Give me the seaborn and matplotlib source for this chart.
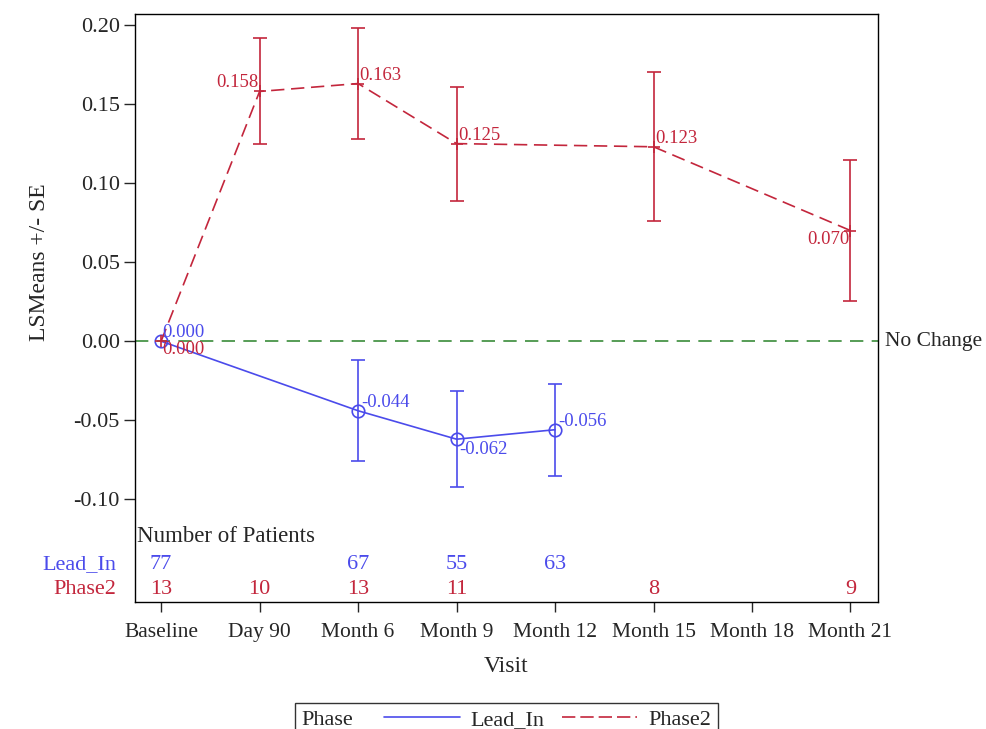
import numpy as np
import pandas as pd
import seaborn as sns
import matplotlib.pyplot as plt
import matplotlib.transforms as mtransforms
from matplotlib.lines import Line2D
from matplotlib.offsetbox import HPacker


# ----------------------------
# Data
# ----------------------------

visits = ["Baseline", "Day 90", "Month 6", "Month 9", "Month 12",
          "Month 15", "Month 18", "Month 21"]

lead_visits = ["Baseline", "Month 6", "Month 9", "Month 12"]
lead_means  = [0.000, -0.044, -0.062, -0.056]
lead_se     = [0.000, 0.032, 0.0305, 0.029]
lead_n      = [77, 67, 55, 63]

phase2_visits = ["Baseline", "Day 90", "Month 6", "Month 9", "Month 15", "Month 21"]
phase2_means  = [0.000, 0.158, 0.163, 0.125, 0.123, 0.070]
phase2_se     = [0.000, 0.0335, 0.035, 0.036, 0.047, 0.0445]
phase2_n      = [13, 10, 13, 11, 8, 9]

# label placement per point: (dx, dy, ha, va) in points
lead_lbl   = [(1, 0, "left", "bottom"), (2, 0, "left", "bottom"),
              (2, -1, "left", "top"), (2, 0, "left", "bottom")]
phase2_lbl = [(1, 0, "left", "top"), (-1, 0, "right", "bottom"),
              (1, 0, "left", "bottom"), (1, 0, "left", "bottom"),
              (1, 0, "left", "bottom"), (-1, 0, "right", "top")]

BLUE  = "#4B4BEB"
RED   = "#C3263C"
GREEN = "#3A8C3A"


# ----------------------------
# Build frame
# ----------------------------

pos = {v: i for i, v in enumerate(visits)}
df = pd.concat([
    pd.DataFrame({"Phase": "Lead_In", "Visit": lead_visits,
                  "Mean": lead_means, "SE": lead_se, "N": lead_n}),
    pd.DataFrame({"Phase": "Phase2", "Visit": phase2_visits,
                  "Mean": phase2_means, "SE": phase2_se, "N": phase2_n}),
], ignore_index=True)
df["x"] = df["Visit"].map(pos)

colors  = {"Lead_In": BLUE, "Phase2": RED}
markers = {"Lead_In": "o", "Phase2": "+"}
dashes  = {"Lead_In": (None, None), "Phase2": (8, 4)}


# ----------------------------
# Plot
# ----------------------------

sns.set_style("white")
plt.rcParams["font.family"] = ["Liberation Serif", "DejaVu Serif"]

fig = plt.figure(figsize=(9.87, 7.29), dpi=100)
ax = fig.add_axes([0.1368, 0.1742, 0.7528, 0.8066])

ax.axhline(0, color=GREEN, lw=1.2, dashes=(8, 5), zorder=1)

for phase, g in df.groupby("Phase"):
    kw = {} if phase == "Lead_In" else {"dashes": dashes[phase]}
    sns.lineplot(data=g, x="x", y="Mean", color=colors[phase],
                 marker=markers[phase], markersize=9, mfc="none",
                 mec=colors[phase], mew=1.2, lw=1.2, ax=ax, zorder=3, **kw)
    ge = g[g["SE"] > 0]
    ax.errorbar(ge["x"], ge["Mean"], yerr=ge["SE"], fmt="none",
                ecolor=colors[phase], elinewidth=1.2, capsize=5,
                capthick=1.2, zorder=2)

# value labels
for phase, lbl in [("Lead_In", lead_lbl), ("Phase2", phase2_lbl)]:
    g = df[df["Phase"] == phase]
    for (x, y), (dx, dy, ha, va) in zip(zip(g["x"], g["Mean"]), lbl):
        ax.annotate(f"{y:.3f}", (x, y), xytext=(dx, dy), textcoords="offset points",
                    ha=ha, va=va, color=colors[phase], fontsize=13.5)

# patient count table inside the axes
trans = mtransforms.blended_transform_factory(ax.transData, ax.transAxes)
ax.text(-0.245, 0.112, "Number of Patients", transform=trans, fontsize=16.5,
        ha="left", va="center")
for phase, yrow in [("Lead_In", 0.064), ("Phase2", 0.021)]:
    g = df[df["Phase"] == phase]
    for x, n in zip(g["x"], g["N"]):
        ax.text(x, yrow, str(n), transform=trans, color=colors[phase],
                fontsize=16, ha="center", va="center")
    ax.text(-0.025, yrow, phase, transform=ax.transAxes, color=colors[phase],
            fontsize=16, ha="right", va="center")

ax.text(1.01, 0, "No Change",
        transform=mtransforms.blended_transform_factory(ax.transAxes, ax.transData),
        fontsize=15.5, ha="left", va="center")

ax.set_xlim(-0.265, 7.28)
ax.set_ylim(-0.165, 0.207)
ax.set_xticks(range(len(visits)))
ax.set_xticklabels(visits)
ax.set_yticks([-0.10, -0.05, 0.00, 0.05, 0.10, 0.15, 0.20])
ax.yaxis.set_major_formatter(plt.FuncFormatter(lambda v, _: f"{v:.2f}"))
ax.tick_params(axis="y", direction="out", length=8, width=1, labelsize=16, left=True, pad=3)
ax.tick_params(axis="x", direction="out", length=7, width=1, labelsize=15.5, bottom=True, pad=8)
ax.set_xlabel("Visit", fontsize=17, labelpad=10)
ax.set_ylabel("LSMeans +/- SE", fontsize=17)
ax.yaxis.set_label_coords(-0.114, 0.578)
for s in ax.spines.values():
    s.set_color("black")
    s.set_linewidth(1)

# legend at the bottom, title inline on the left
handles = [
    Line2D([], [], color=BLUE, lw=1.2),
    Line2D([], [], color=RED, lw=1.2, dashes=(8, 3)),
]
leg = fig.legend(handles, ["Lead_In", "Phase2"], ncol=2, title="Phase",
                 title_fontsize=16, loc="upper center",
                 bbox_to_anchor=(0.513, 0.0357),
                 frameon=True, fancybox=False, fontsize=16, handlelength=3.4,
                 handletextpad=0.5, columnspacing=0.77, borderpad=0.3,
                 borderaxespad=0)
leg._legend_box = HPacker(pad=0.3 * 16, sep=1.4 * 16, align="baseline",
                          children=[leg._legend_title_box, leg._legend_handle_box])
leg._legend_box.set_figure(fig)
leg._legend_box.set_offset(leg._findoffset)
leg.get_frame().set_edgecolor("black")
leg.get_frame().set_linewidth(1)

fig.savefig("out.png", dpi=100)
